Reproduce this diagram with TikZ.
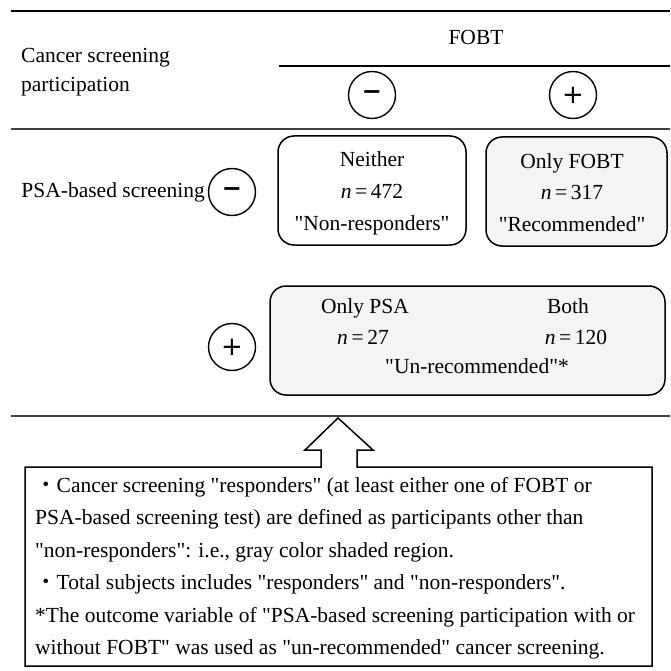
\documentclass[tikz,border=0pt]{standalone}
\usepackage{fontspec}
\setmainfont{Liberation Serif}[Ligatures=TeXOff]
\newfontfamily\cjkfont{Noto Sans CJK JP}
\newfontfamily\symfont{DejaVu Sans}
\begin{document}
\begin{tikzpicture}[x=1pt,y=-1pt,
  txt/.style={font=\fontsize{21.5}{26}\selectfont, inner sep=0pt, anchor=base},
  ltxt/.style={txt, anchor=base west},
  rule/.style={line width=1.3pt, black!75},
  sign/.style={circle, draw, line width=1.4pt, minimum size=47pt, inner sep=0pt},
  cell/.style={draw, rounded corners=16pt, line width=1.5pt, inner sep=0pt},
  shaded/.style={fill=gray!9}]
\useasboundingbox (0,0) rectangle (670,671);

% horizontal rules
\coordinate (r0a) at (11,11);  \coordinate (r0b) at (670,11);
\coordinate (r1a) at (279,66); \coordinate (r1b) at (670,66);
\coordinate (r2a) at (11,129); \coordinate (r2b) at (670,129);
\coordinate (r3a) at (11,416); \coordinate (r3b) at (670,416);
\draw[line width=1.8pt] (r0a) -- (r0b);
\draw[line width=1.3pt] (r1a) -- (r1b);
\draw[rule] (r2a) -- (r2b);
\draw[rule] (r3a) -- (r3b);

% header texts
\node[ltxt] (h1) at (21,63) {Cancer screening};
\node[ltxt] (h2) at (21,92) {participation};
\node[txt] (fobt) at (476,45) {FOBT};

% sign circles
\node[sign, font=\symfont\bfseries\fontsize{24}{24}\selectfont] (fm) at (372,95) {−};
\node[sign, font=\symfont\fontsize{26}{26}\selectfont] (fp) at (573,95) {+};
\node[sign, font=\symfont\bfseries\fontsize{24}{24}\selectfont] (pm) at (232,192) {−};
\node[sign, font=\symfont\fontsize{26}{26}\selectfont] (pp) at (232,347) {+};
\node[txt, anchor=base east] (psa) at (205,197) {PSA-based screening};

% cells
\node[cell, minimum width=188pt, minimum height=109pt] (neither) at (372,190.5) {};
\node[cell, shaded, minimum width=181pt, minimum height=109pt] (onlyfobt) at (576.5,191.5) {};
\node[cell, shaded, minimum width=395pt, minimum height=109pt] (unrec) at (467.5,340.5) {};

\node[txt] (n1) at (372,167) {Neither};
\node[txt] (n2) at (372,198) {\textit{n}\,=\,472};
\node[txt] (n3) at (372,230) {"Non-responders"};

\node[txt] (f1) at (572,168) {Only FOBT};
\node[txt] (f2) at (572,199) {\textit{n}\,=\,317};
\node[txt] (f3) at (572,231) {"Recommended"};

\node[txt] (u1) at (365,313) {Only PSA};
\node[txt] (u2) at (568,313) {Both};
\node[txt] (u3) at (363,344) {\textit{n}\,=\,27};
\node[txt] (u4) at (576,344) {\textit{n}\,=\,120};
\node[txt] (u5) at (477,373) {"Un-recommended"*};

% note box with block arrow
\coordinate (bA) at (321,467);
\coordinate (bB) at (25,467);
\coordinate (bC) at (25,666);
\coordinate (bD) at (652,666);
\coordinate (bE) at (652,467);
\coordinate (bF) at (357,467);
\coordinate (aR1) at (357,450);
\coordinate (aR2) at (373,450);
\coordinate (aT) at (338,418);
\coordinate (aL2) at (305,450);
\coordinate (aL1) at (321,450);
\draw[line width=1.5pt, line join=miter, fill=white]
  (bA) -- (bB) -- (bC) -- (bD) -- (bE) -- (bF) -- (aR1) -- (aR2) -- (aT) -- (aL2) -- (aL1) -- cycle;

\node[ltxt] (l1) at (35,492) {{\cjkfont ・}Cancer screening "responders" (at least either one of FOBT or};
\node[ltxt] (l2) at (35,524.5) {PSA-based screening test) are defined as participants other than};
\node[ltxt] (l3) at (35,557) {"non-responders": i.e., gray color shaded region.};
\node[ltxt] (l4) at (35,589.5) {{\cjkfont ・}Total subjects includes "responders" and "non-responders".};
\node[ltxt] (l5) at (35,622) {*The outcome variable of "PSA-based screening participation with or};
\node[ltxt] (l6) at (35,654.5) {without FOBT" was used as "un-recommended" cancer screening.};
\end{tikzpicture}
\end{document}
